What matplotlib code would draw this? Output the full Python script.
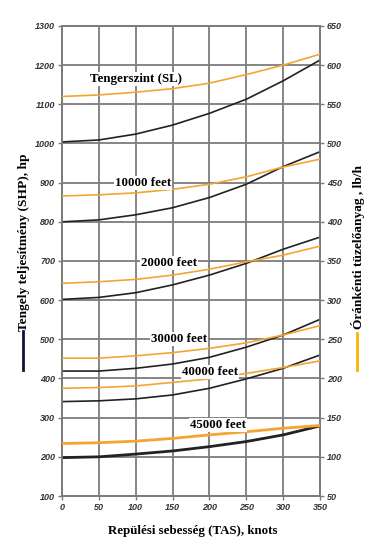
import matplotlib
matplotlib.use("Agg")
import matplotlib.pyplot as plt
from matplotlib.lines import Line2D

speed = [0, 50, 100, 150, 200, 250, 300, 350]

# Shaft horsepower (left axis, hp)
shp_sl    = [1004, 1009, 1024, 1047, 1077, 1113, 1160, 1213]
shp_10k   = [800, 805, 818, 836, 862, 896, 941, 979]
shp_20k   = [602, 607, 619, 639, 664, 694, 730, 761]
shp_30k   = [419, 419, 426, 437, 454, 480, 511, 551]
shp_40k   = [341, 343, 348, 358, 375, 399, 426, 460]
shp_45k   = [198, 200, 207, 215, 226, 239, 256, 279]

# Fuel flow (right axis, lb/h)
fuel_sl   = [560, 562, 565.5, 570, 577, 588, 600, 614]
fuel_10k  = [433, 434.5, 437, 441.5, 448, 457.5, 470, 480]
fuel_20k  = [321.5, 323.5, 326.5, 332, 339.5, 349, 357.5, 369]
fuel_30k  = [226, 226, 229, 233, 238.5, 245.5, 255.5, 267.5]
fuel_40k  = [187.5, 188.5, 190.5, 195, 199.5, 206.5, 214, 222.5]
fuel_45k  = [117, 118, 120, 123.5, 128, 132, 136.5, 140]

labels = ["Tengerszint (SL)", "10000 feet", "20000 feet", "30000 feet", "40000 feet", "45000 feet"]
label_pos = [(101, 1165), (110, 899), (145, 695), (159, 501), (201, 417), (212, 281)]

left_ticks = list(range(100, 1301, 100))
right_ticks = list(range(50, 651, 50))
x_ticks = list(range(0, 351, 50))

BLACK = "#222222"
ORANGE = "#F5A432"
GRID = "#7c7c7c"
TICKC = "#333333"

fig = plt.figure(figsize=(3.69, 5.44), dpi=100)
ax = fig.add_axes([62/369, 1-496/544, 258/369, 470/544])
ax2 = ax.twinx()

ax.set_xlim(0, 350)
ax.set_ylim(100, 1300)
ax2.set_ylim(50, 650)

ax.set_xticks(x_ticks)
ax.set_yticks(left_ticks)
ax2.set_yticks(right_ticks)

ax.grid(True, color=GRID, linewidth=1.3)
ax.set_axisbelow(True)
for a in (ax, ax2):
    for s in a.spines.values():
        s.set_color(GRID)
        s.set_linewidth(1.3)
ax.tick_params(axis="both", direction="out", length=3, width=1, color=GRID,
               labelsize=6.5, labelcolor=TICKC, pad=2)
ax2.tick_params(axis="y", direction="out", length=3, width=1, color=GRID,
                labelsize=6.5, labelcolor=TICKC, pad=2)
for lab in ax.get_xticklabels() + ax.get_yticklabels() + ax2.get_yticklabels():
    lab.set_fontstyle("italic")
    lab.set_fontweight("bold")
    lab.set_fontfamily("Liberation Sans")

shp = [shp_sl, shp_10k, shp_20k, shp_30k, shp_40k, shp_45k]
fuel = [fuel_sl, fuel_10k, fuel_20k, fuel_30k, fuel_40k, fuel_45k]
for i, (s, f) in enumerate(zip(shp, fuel)):
    lw = 2.0 if i == 5 else 1.2
    ax.plot(speed, s, color=BLACK, linewidth=lw, zorder=3)
    ax2.plot(speed, f, color=ORANGE, linewidth=lw, zorder=3)

for txt, (x, y) in zip(labels, label_pos):
    ax2.text(x, y, txt, transform=ax.transData, ha="center", va="center",
             fontsize=9.3, fontweight="bold", family="Liberation Serif", color="black",
             zorder=6, bbox=dict(facecolor="white", edgecolor="none", pad=0.8))

fig.text(193/369, 1-531/544, "Repülési sebesség (TAS), knots", ha="center", va="center",
         fontsize=9.3, fontweight="bold", family="Liberation Serif")
fig.text(24/369, 1-242/544, "Tengely teljesítmény (SHP), hp", ha="center", va="center",
         rotation=90, fontsize=9.6, fontweight="bold", family="Liberation Serif")
fig.text(358/369, 1-247/544, "Óránkénti tüzelőanyag , lb/h", ha="center", va="center",
         rotation=90, fontsize=9.6, fontweight="bold", family="Liberation Serif")
fig.add_artist(Line2D([23/369, 23/369], [1-370/544, 1-331/544], color="#111133",
                      linewidth=2, transform=fig.transFigure))
fig.add_artist(Line2D([357/369, 357/369], [1-370/544, 1-333/544], color="#F7B500",
                      linewidth=2, transform=fig.transFigure))

fig.savefig("out.png", dpi=100)
